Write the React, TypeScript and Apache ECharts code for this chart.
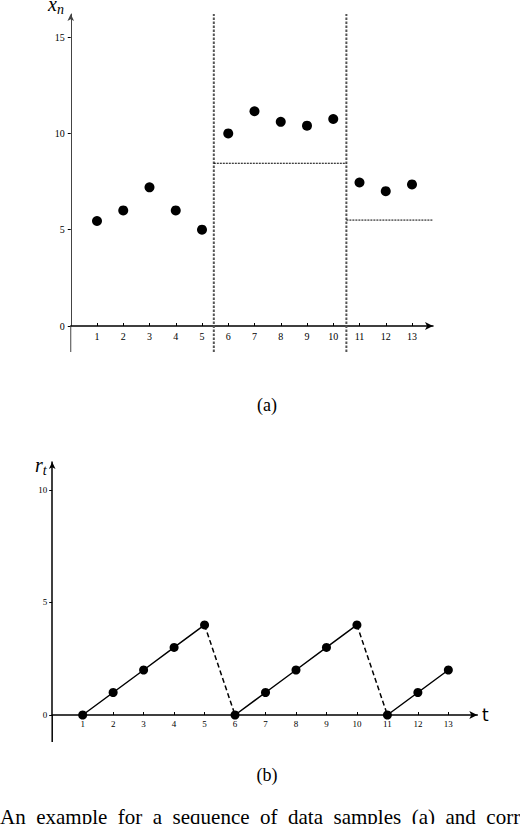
import React, { useEffect, useRef } from "react";
import * as echarts from "echarts";

// Panel (a): data samples x_n
const sampleIndex = [1, 2, 3, 4, 5, 6, 7, 8, 9, 10, 11, 12, 13];
const sampleValues = [5.45, 6.0, 7.2, 6.0, 5.0, 10.0, 11.15, 10.6, 10.4, 10.75, 7.45, 7.0, 7.35];
const changePoints = [5.45, 10.5];
const levelSegments = [
  { from: 5.45, to: 10.5, level: 8.45 },
  { from: 10.5, to: 13.8, level: 5.5 },
];
const yTicksA = [0, 5, 10, 15];
const yRangeA = [-1.35, 16.2];

// Panel (b): run length r_t
const runLength = [0, 1, 2, 3, 4, 0, 1, 2, 3, 4, 0, 1, 2];
const yTicksB = [0, 5, 10];
const yRangeB = [-1.2, 11.24];

const serif = "'Liberation Serif', 'DejaVu Serif', serif";

export default function App() {
  const ref = useRef<HTMLDivElement>(null);
  useEffect(() => {
    if (!ref.current) return;
    const chart = echarts.init(ref.current, null, { renderer: "svg" });

    const pointsA = sampleIndex.map((t, i) => [t, sampleValues[i]]);
    const pointsB = sampleIndex.map((t, i) => [t, runLength[i]]);

    const solidSegs: number[][][] = [];
    const dashedSegs: number[][][] = [];
    let cur: number[][] = [];
    pointsB.forEach((p, i) => {
      if (i > 0 && runLength[i] < runLength[i - 1]) {
        solidSegs.push(cur);
        dashedSegs.push([pointsB[i - 1], p]);
        cur = [];
      }
      cur.push(p);
    });
    solidSegs.push(cur);

    const series: any[] = [
      {
        type: "line",
        xAxisIndex: 0,
        yAxisIndex: 0,
        clip: false,
        silent: true,
        data: [
          [0, 0],
          [0, yRangeA[0]],
        ],
        showSymbol: false,
        lineStyle: { color: "#444", width: 1 },
      },
      {
        type: "line",
        xAxisIndex: 1,
        yAxisIndex: 1,
        clip: false,
        silent: true,
        data: [
          [0, 0],
          [0, yRangeB[0]],
        ],
        showSymbol: false,
        lineStyle: { color: "#000", width: 1.5 },
      },
      ...changePoints.map((c) => ({
        type: "line",
        xAxisIndex: 0,
        yAxisIndex: 0,
        clip: false,
        silent: true,
        data: [
          [c, yRangeA[0]],
          [c, yRangeA[1]],
        ],
        showSymbol: false,
        lineStyle: { color: "#555", width: 2, type: [2.5, 1.5] },
      })),
      {
        type: "scatter",
        xAxisIndex: 0,
        yAxisIndex: 0,
        data: pointsA,
        symbolSize: 10,
        itemStyle: { color: "#000", opacity: 1 },
        z: 5,
      },
      ...levelSegments.map((s) => ({
        type: "line",
        xAxisIndex: 0,
        yAxisIndex: 0,
        data: [
          [s.from, s.level],
          [s.to, s.level],
        ],
        showSymbol: false,
        lineStyle: { color: "#000", width: 1, type: [2, 1] },
      })),
      ...solidSegs.map((seg) => ({
        type: "line",
        xAxisIndex: 1,
        yAxisIndex: 1,
        data: seg,
        symbol: "circle",
        symbolSize: 9,
        itemStyle: { color: "#000" },
        lineStyle: { color: "#000", width: 1.5 },
        z: 4,
      })),
      ...dashedSegs.map((seg) => ({
        type: "line",
        xAxisIndex: 1,
        yAxisIndex: 1,
        data: seg,
        showSymbol: false,
        lineStyle: { color: "#000", width: 1.5, type: [5, 3] },
        z: 3,
      })),
    ];

    const xAxisCommon = {
      type: "value",
      min: 0,
      splitLine: { show: false },
      axisLine: {
        symbol: ["none", "arrow"],
        symbolSize: [6, 8],
        lineStyle: { color: "#000", width: 1.5 },
      },
      axisTick: { show: true, inside: true, length: 3, customValues: sampleIndex, lineStyle: { color: "#000" } },
      axisLabel: { customValues: sampleIndex, fontFamily: serif, fontSize: 10, color: "#000", margin: 5 },
    };

    chart.setOption({
      animation: false,
      grid: [
        { left: 70.75, top: 14, width: 362.25, height: 312 },
        { left: 52.2, top: 462, width: 425.1, height: 253 },
      ],
      xAxis: [
        { ...xAxisCommon, gridIndex: 0, max: 13.8 },
        { ...xAxisCommon, gridIndex: 1, max: 13.95, axisLabel: { ...xAxisCommon.axisLabel, fontSize: 9, margin: 4 } },
      ],
      yAxis: [
        {
          type: "value",
          gridIndex: 0,
          min: 0,
          max: yRangeA[1],
          splitLine: { show: false },
          axisLine: {
            show: true,
            symbol: ["none", "arrow"],
            symbolSize: [5, 7],
            lineStyle: { color: "#444", width: 1 },
          },
          axisTick: { show: true, length: 3, customValues: yTicksA, lineStyle: { color: "#000" } },
          axisLabel: { customValues: yTicksA, fontFamily: serif, fontSize: 10, color: "#000", margin: 6 },
        },
        {
          type: "value",
          gridIndex: 1,
          min: 0,
          max: yRangeB[1],
          splitLine: { show: false },
          axisLine: {
            show: true,
            symbol: ["none", "arrow"],
            symbolSize: [5, 7],
            lineStyle: { color: "#000", width: 1.5 },
          },
          axisTick: { show: true, length: 3, customValues: yTicksB, lineStyle: { color: "#000" } },
          axisLabel: { customValues: yTicksB, fontFamily: serif, fontSize: 9, color: "#000", margin: 5 },
        },
      ],
      graphic: [
        {
          type: "text",
          left: 48,
          top: -6,
          style: {
            text: "{a|x}{b|n}",
            rich: {
              a: { fontFamily: serif, fontStyle: "italic", fontSize: 20, fill: "#000" },
              b: { fontFamily: serif, fontStyle: "italic", fontSize: 14, fill: "#000", padding: [10, 0, 0, 0] },
            },
          },
        },
        {
          type: "text",
          left: 35,
          top: 455,
          style: {
            text: "{a|r}{b|t}",
            rich: {
              a: { fontFamily: serif, fontStyle: "italic", fontSize: 20, fill: "#000" },
              b: { fontFamily: serif, fontStyle: "italic", fontSize: 14, fill: "#000", padding: [10, 0, 0, 0] },
            },
          },
        },
        {
          type: "text",
          left: 482,
          top: 706,
          style: { text: "t", fontFamily: "'DejaVu Sans', sans-serif", fontSize: 17, fill: "#000" },
        },
        {
          type: "text",
          x: 267,
          y: 405,
          style: { text: "(a)", fontFamily: serif, fontSize: 18, fill: "#000", align: "center", verticalAlign: "middle" },
        },
        {
          type: "text",
          x: 267,
          y: 775,
          style: { text: "(b)", fontFamily: serif, fontSize: 18, fill: "#000", align: "center", verticalAlign: "middle" },
        },
        {
          type: "text",
          x: 0,
          y: 806,
          style: {
            text: "An  example  for  a  sequence  of  data  samples  (a)  and  corresponding",
            fontFamily: serif,
            fontSize: 21,
            fill: "#000",
            align: "left",
            verticalAlign: "top",
          },
        },
      ],
      series,
    });
    return () => chart.dispose();
  }, []);
  return <div ref={ref} style={{ position: "absolute", left: 0, top: 0, width: 520, height: 824, background: "#fff" }} />;
}
